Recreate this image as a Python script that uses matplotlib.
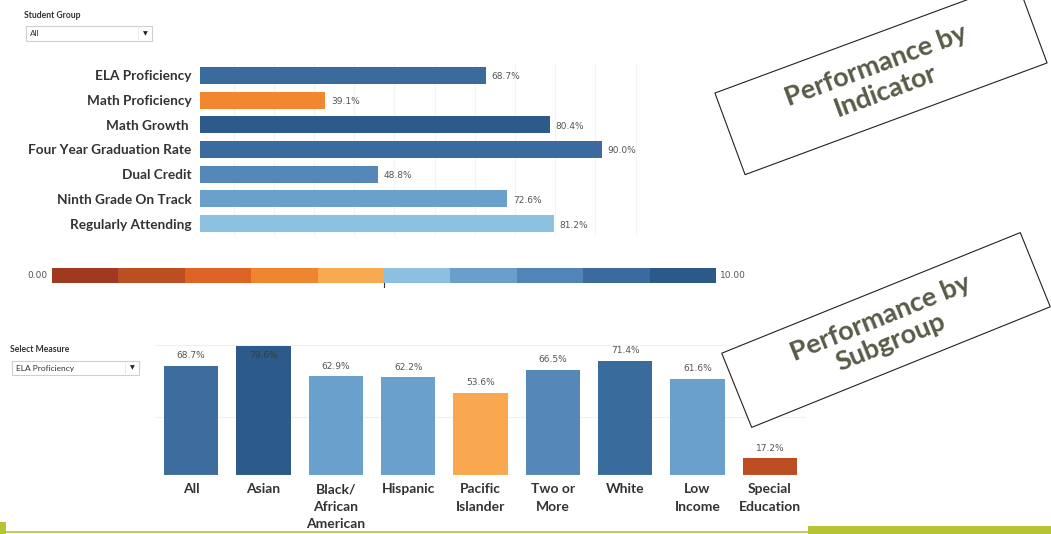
import matplotlib
matplotlib.use("Agg")
import matplotlib.pyplot as plt
from matplotlib.patches import Polygon, Rectangle
import numpy as np

# ---- data ----
indicators = ["ELA Proficiency", "Math Proficiency", "Math Growth ", "Four Year Graduation Rate",
              "Dual Credit", "Ninth Grade On Track", "Regularly Attending"]
indicator_vals = [68.7, 39.1, 80.4, 90.0, 48.8, 72.6, 81.2]
indicator_colors = ["#3a6b9d", "#f28730", "#2c5a8b", "#3b6b9e", "#5587b9", "#6aa0cc", "#8cc1e0"]

subgroups = ["All", "Asian", "Black/\nAfrican\nAmerican", "Hispanic", "Pacific\nIslander",
             "Two or\nMore", "White", "Low\nIncome", "Special\nEducation"]
subgroup_vals = [68.7, 79.6, 62.9, 62.2, 53.6, 66.5, 71.4, 61.6, 17.2]
subgroup_colors = ["#3d6d9f", "#2c5a8b", "#6aa0cc", "#6aa0cc", "#f9a84f",
                   "#5587b9", "#3a6b9d", "#6aa0cc", "#bc4c21"]

scale_colors = ["#a0391f", "#bc4f22", "#de6426", "#f08530", "#f9a94f",
                "#8cbfe0", "#6a9fcb", "#5185b7", "#3a6a9e", "#2b5a8a"]

W, H = 1051, 534
LABEL_FONT = "Lato"
TXT = "#333333"
VAL = "#555555"

fig = plt.figure(figsize=(W / 100, H / 100), dpi=100)
fig.patch.set_facecolor("white")


def px_axes(l, t, r, b):
    return fig.add_axes([l / W, 1 - b / H, (r - l) / W, (b - t) / H])


# ---- top: performance by indicator ----
ax1 = px_axes(200, 63, 640, 236)
y = np.arange(len(indicators))
ax1.barh(y, np.array(indicator_vals) - 16, left=16, height=0.69, color=indicator_colors)
ax1.set_xlim(16, 97)
ax1.set_ylim(len(indicators) - 0.5, -0.5)
ax1.set_yticks(y)
ax1.set_yticklabels(indicators, fontfamily=LABEL_FONT, fontweight="bold", fontsize=9.8, color=TXT)
ax1.tick_params(axis="y", length=0, pad=6)
ax1.tick_params(axis="x", length=0, labelbottom=False)
ax1.xaxis.set_major_locator(plt.MultipleLocator(7.4))
ax1.grid(axis="x", color="#f4f4f4", lw=0.8)
ax1.set_axisbelow(True)
for s in ax1.spines.values():
    s.set_visible(False)
for i, v in enumerate(indicator_vals):
    ax1.annotate(f"{v:.1f}%", (v, i), xytext=(4, -1), textcoords="offset points",
                 va="center", ha="left", fontsize=6.5, color=VAL)

# ---- color scale legend ----
axc = px_axes(52, 268, 716, 283)
axc.barh(0, [1] * 10, left=np.arange(10), height=1, color=scale_colors)
axc.set_xlim(0, 10)
axc.set_ylim(-0.5, 0.5)
axc.axis("off")
axc.plot([5, 5], [-0.5, -0.75], color="#333333", lw=0.8, clip_on=False)
fig.text(48 / W, 1 - 276 / H, "0.00", ha="right", va="center", fontsize=6.5, color=VAL)
fig.text(720 / W, 1 - 276 / H, "10.00", ha="left", va="center", fontsize=6.5, color=VAL)

# ---- bottom: performance by subgroup ----
ax2 = px_axes(155, 340, 806, 475)
x = np.arange(len(subgroups))
ylo, yhi = 8, 83
ax2.bar(x, np.array(subgroup_vals) - ylo, bottom=ylo, width=0.75, color=subgroup_colors)
ax2.set_xlim(-0.5, len(subgroups) - 0.5)
ax2.set_ylim(ylo, yhi)
ax2.set_xticks(x)
ax2.set_xticklabels(subgroups, fontfamily=LABEL_FONT, fontweight="bold", fontsize=10,
                    color=TXT, linespacing=1.55)
ax2.tick_params(axis="x", length=0, pad=6)
ax2.set_yticks([40, 80])
ax2.tick_params(axis="y", length=0, labelleft=False)
ax2.grid(axis="y", color="#f0f0f0", lw=0.8)
ax2.set_axisbelow(True)
for s in ax2.spines.values():
    s.set_visible(False)
ax2.axhline(ylo, color="#e6e6e6", lw=0.8)
for i, v in enumerate(subgroup_vals):
    if v + 5 > yhi:
        ax2.annotate(f"{v:.1f}%", (i, yhi), xytext=(0, -8), textcoords="offset points",
                     ha="center", va="top", fontsize=6.5, color="#3a3a3a")
    else:
        ax2.annotate(f"{v:.1f}%", (i, v), xytext=(0, 4), textcoords="offset points",
                     ha="center", va="bottom", fontsize=6.5, color=VAL)

# ---- overlay: filters, callout boxes, footer ----
ov = fig.add_axes([0, 0, 1, 1])
ov.set_xlim(0, W)
ov.set_ylim(H, 0)
ov.axis("off")


def dropdown(label, value, l, t, r, b):
    ov.text(l - 2, t - 11, label, fontsize=6.2, fontweight="bold", color=TXT,
            fontfamily=LABEL_FONT, va="center")
    ov.add_patch(Rectangle((l, t), r - l, b - t, fc="white", ec="#cfcfcf", lw=0.8))
    ov.text(l + 4, (t + b) / 2, value, fontsize=6, color=TXT, va="center", fontfamily=LABEL_FONT)
    ov.plot([r - 14, r - 14], [t + 2, b - 2], color="#e6e6e6", lw=0.6)
    ov.text(r - 7, (t + b) / 2, "\u25BC", fontsize=4.5, color="#222222", ha="center", va="center")


dropdown("Student Group", "All", 26, 26, 152, 41)
dropdown("Select Measure", "ELA Proficiency", 12, 361, 139, 375)


def callout(cx, cy, w, h, ang, text):
    a = np.radians(ang)
    u = np.array([np.cos(a), -np.sin(a)])
    v = np.array([np.sin(a), np.cos(a)])
    c = np.array([cx, cy])
    pts = [c - w / 2 * u - h / 2 * v, c + w / 2 * u - h / 2 * v,
           c + w / 2 * u + h / 2 * v, c - w / 2 * u + h / 2 * v]
    ov.add_patch(Polygon(pts, closed=True, fc="white", ec="#222222", lw=0.8))
    ov.text(cx, cy, text, rotation=ang, rotation_mode="anchor", ha="center", va="center",
            fontsize=19.5, fontweight="bold", color="#5a5a48", fontfamily=LABEL_FONT,
            linespacing=1.15, multialignment="center")


callout(881, 78, 322, 87, 20.3, "Performance by\nIndicator")
callout(886, 330, 322, 80, 22, "Performance by\nSubgroup")

green = "#b5c334"
ov.add_patch(Rectangle((808, 526), W - 808, 8, fc=green, ec="none"))
ov.add_patch(Rectangle((0, 530.5), 808, 2.5, fc="#c3cc5a", ec="none"))
ov.add_patch(Rectangle((0, 522), 6, 12, fc=green, ec="none"))

fig.savefig("out.png", dpi=100)
